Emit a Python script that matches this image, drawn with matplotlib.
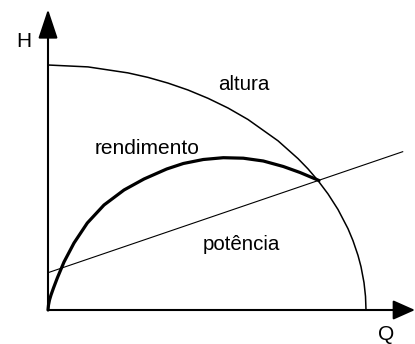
import matplotlib.pyplot as plt

plt.rcParams['font.family'] = ['Liberation Sans', 'DejaVu Sans']

# curva de altura (Q, H), unidades
altura_q = [0, 40, 80, 100, 120, 140, 160, 180, 200, 230, 250, 260, 270, 280,
            290, 300, 305, 310, 313, 316, 317.5, 318]
altura_h = [245, 243.1, 237.1, 232.6, 226.9, 220, 211.7, 202, 190.5, 169.2,
            151.4, 141.1, 129.4, 116.1, 100.5, 81.3, 69.3, 54.6, 43.3, 27.4,
            13.7, 0]

# curva de rendimento
rend_q = [0, 0.5, 1.5, 3, 5.5, 9.3, 16, 26, 39.3, 56, 76, 96, 118.7, 135.3,
          155.3, 175.3, 195.3, 215.3, 235.3, 252, 271]
rend_h = [0, 5, 10, 15, 22, 32, 48, 67, 87, 105, 120, 131, 141, 146.5, 150.5,
          152.3, 151.8, 149, 143.5, 137.5, 129.5]

# reta de potência
pot_q = [0, 354.7]
pot_h = [37.3, 158.3]

fig = plt.figure(figsize=(4.15, 3.44), dpi=100)
ax = fig.add_axes([0, 0, 1, 1])
ax.set_xlim(-48, 367)
ax.set_ylim(-34, 310)
ax.axis('off')

# eixos com setas
ax.annotate('', xy=(0, 300.7), xytext=(0, 0),
            arrowprops=dict(arrowstyle='-|>,head_length=0.6,head_width=0.2',
                            mutation_scale=30, lw=1.5, color='black',
                            shrinkA=0, shrinkB=0))
ax.annotate('', xy=(367, 0), xytext=(0, 0),
            arrowprops=dict(arrowstyle='-|>,head_length=0.45,head_width=0.2',
                            mutation_scale=30, lw=1.5, color='black',
                            shrinkA=0, shrinkB=0))

ax.plot(altura_q, altura_h, color='black', lw=1.1)
ax.plot(rend_q, rend_h, color='black', lw=2.3, solid_capstyle='round',
        solid_joinstyle='round')
ax.plot(pot_q, pot_h, color='black', lw=0.8)

ax.text(-24, 268.5, 'H', fontsize=15, ha='center', va='center')
ax.text(338, -25, 'Q', fontsize=15, ha='center', va='center')
ax.text(196, 226, 'altura', fontsize=14.8, ha='center', va='center')
ax.text(99.5, 161, 'rendimento', fontsize=15, ha='center', va='center')
ax.text(193, 66, 'potência', fontsize=14.8, ha='center', va='center')

fig.savefig('out.png', dpi=100)
